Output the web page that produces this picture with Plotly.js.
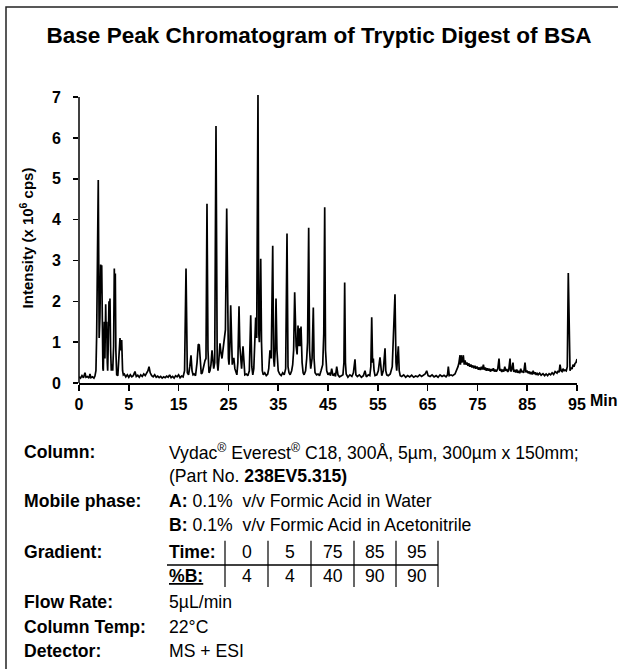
<!DOCTYPE html>
<html>
<head>
<meta charset="utf-8">
<script src="https://cdn.plot.ly/plotly-3.0.1.min.js"></script>
<style>
  html, body { margin: 0; padding: 0; background: #fff; }
  #chart { width: 618px; height: 669px; }
</style>
</head>
<body>
<div id="chart"></div>
<script>
// ---------------- DATA ----------------
const chartTitle = "Base Peak Chromatogram of Tryptic Digest of BSA";
const yAxisTitle = "Intensity (x 10<sup>6</sup> cps)";
const xTickPositions = [-5, 5, 15, 25, 35, 45, 55, 65, 75, 85, 95];
const xTickLabels = ["0", "5", "15", "25", "35", "45", "55", "65", "75", "85", "95"];
const xUnitLabel = "Min";
const yTickValues = [0, 1, 2, 3, 4, 5, 6, 7];

// [time (min), intensity (x10^6 cps)]
const segmentEarly = [
  [-5.0,0.15],[-4.7,0.12],[-4.4,0.18],[-4.1,0.13],[-3.8,0.25],[-3.6,0.14],[-3.3,0.16],[-3.0,0.12],
  [-2.8,0.22],[-2.6,0.13],[-2.3,0.15],[-2.0,0.12],[-1.8,0.17],[-1.6,0.3],[-1.45,1.2],[-1.13,4.97],
  [-0.95,1.1],[-0.8,1.6],[-0.64,2.9],[-0.52,2.2],[-0.44,2.88],[-0.38,1.3],[-0.32,1.5],[-0.2,0.35],
  [-0.12,0.3],[0.0,1.2],[0.08,1.5],[0.2,0.6],[0.36,1.93],[0.45,1.2],[0.56,1.5],[0.68,0.5],
  [0.76,0.3],[0.9,1.1],[1.02,2.0],[1.1,1.4],[1.22,2.07],[1.35,0.8],[1.49,0.3],[1.65,0.45],
  [1.77,0.3],[1.95,0.9],[2.09,2.8],[2.2,1.8],[2.29,2.68],[2.4,0.8],[2.57,0.2],[2.8,0.18],
  [3.0,0.5],[3.23,1.1],[3.4,0.8],[3.57,1.05],[3.75,0.3],[3.9,0.2],[4.1,0.22],[4.4,0.15],[4.7,0.2]
];
const segmentFirstHalf = [
  [5.0,0.14],[5.3,0.2],[5.6,0.15],[5.9,0.18],[6.24,0.28],[6.5,0.16],[6.8,0.19],[7.1,0.14],
  [7.4,0.2],[7.7,0.16],[8.0,0.22],[8.3,0.18],[8.6,0.25],[8.85,0.3],[9.06,0.4],[9.3,0.25],
  [9.6,0.18],[9.9,0.15],[10.2,0.2],[10.5,0.14],[10.8,0.17],[11.1,0.13],[11.4,0.16],[11.7,0.12],
  [12.0,0.15],[12.3,0.13],[12.6,0.17],[12.9,0.14],[13.2,0.2],[13.5,0.13],[13.8,0.16],[14.1,0.12],
  [14.4,0.18],[14.7,0.15],[15.0,0.2],[15.3,0.13],[15.6,0.17],[15.9,0.15],[16.2,0.3],[16.49,2.8],
  [16.75,0.25],[17.0,0.2],[17.25,0.4],[17.49,0.68],[17.7,0.3],[17.9,0.2],[18.1,0.22],[18.4,0.18],
  [18.7,0.5],[18.95,0.95],[19.15,0.93],[19.35,0.4],[19.55,0.22],[19.75,0.25],[20.0,0.4],[20.3,0.55],
  [20.5,0.6],[20.7,4.39],[20.9,0.8],[21.1,0.25],[21.3,0.3],[21.5,0.45],[21.71,0.8],[21.9,0.4],
  [22.05,0.35],[22.25,0.5],[22.51,6.29],[22.75,0.5],[22.91,0.3],[23.1,0.6],[23.31,0.97],[23.5,0.75],
  [23.71,0.6],[23.9,0.8],[24.18,1.05],[24.4,1.3],[24.66,4.27],[24.85,1.1],[25.0,0.6],[25.12,0.45],
  [25.3,0.9],[25.46,1.9],[25.62,0.9],[25.78,0.45],[25.95,0.6],[26.1,0.6],[26.3,0.35],[26.5,0.25],
  [26.7,0.2],[26.9,0.5],[27.13,1.88],[27.3,0.9],[27.47,0.55],[27.65,0.35],[27.93,0.9],[28.1,0.4],
  [28.3,0.2],[28.6,0.22],[28.9,0.18],[29.2,0.3],[29.48,1.66],[29.7,0.4],[29.9,0.2]
];
const segmentMiddle = [
  [30.1,0.35],[30.3,1.0],[30.48,1.6],[30.68,1.1],[30.94,7.05],[31.1,1.2],[31.22,1.0],[31.35,1.6],
  [31.49,3.04],[31.65,1.0],[31.81,0.3],[32.0,0.2],[32.3,0.25],[32.6,0.18],[32.9,0.22],[33.1,0.35],
  [33.35,0.8],[33.6,0.6],[33.9,3.36],[34.08,0.6],[34.22,0.4],[34.4,0.8],[34.56,2.07],[34.75,0.8],
  [35.0,0.3],[35.3,0.22],[35.6,0.18],[35.9,0.25],[36.2,0.2],[36.5,0.35],[36.77,3.66],[36.97,0.4],
  [37.17,0.25],[37.4,0.2],[37.7,0.3],[37.91,0.45],[38.1,0.8],[38.31,2.22],[38.45,1.2],[38.6,0.9],
  [38.8,0.7],[38.98,1.41],[39.15,0.9],[39.32,1.34],[39.45,0.9],[39.58,1.38],[39.8,0.5],[40.0,0.25],
  [40.2,0.2],[40.5,0.3],[40.72,0.6],[40.9,1.0],[41.12,3.8],[41.3,0.8],[41.53,0.35],[41.8,0.6],
  [42.05,1.85],[42.2,0.6],[42.4,0.25],[42.7,0.2],[43.0,0.22],[43.3,0.18],[43.6,0.3],[43.94,0.45],
  [44.15,1.2],[44.34,4.3],[44.5,0.8],[44.74,0.3],[45.0,0.2],[45.3,0.25],[45.5,0.18],[45.74,0.35],
  [46.0,0.18],[46.3,0.22],[46.5,0.16],[46.75,0.4],[47.0,0.2],[47.3,0.15],[47.7,0.18],[48.0,0.2],
  [48.2,0.5],[48.35,2.46],[48.5,0.5],[48.65,0.22],[49.0,0.14],[49.4,0.2],[49.8,0.16],[50.1,0.25],
  [50.42,0.58],[50.6,0.2],[50.9,0.16],[51.3,0.2],[51.7,0.14],[52.1,0.18],[52.43,0.3],[52.7,0.15],
  [53.1,0.2],[53.4,0.18],[53.6,0.4],[53.78,1.61],[53.95,0.5],[54.1,0.6],[54.25,0.3],[54.44,0.18],
  [54.8,0.2],[55.1,0.3],[55.44,0.63],[55.6,0.3],[55.8,0.18],[56.1,0.3],[56.45,0.85],[56.6,0.3],
  [56.8,0.2],[57.1,0.18],[57.5,0.22],[57.9,0.4],[58.11,0.97],[58.45,2.17],[58.65,0.5],[58.8,0.3],
  [58.95,0.6],[59.12,0.9],[59.3,0.3],[59.5,0.18],[59.8,0.16]
];
const segmentLate = [
  [60.2,0.2],[60.6,0.14],[61.0,0.18],[61.4,0.15],[61.8,0.19],[62.2,0.14],[62.6,0.17],[63.0,0.15],
  [63.4,0.2],[63.8,0.16],[64.2,0.2],[64.5,0.22],[64.82,0.3],[65.1,0.18],[65.5,0.16],[65.9,0.2],
  [66.3,0.15],[66.7,0.18],[67.1,0.14],[67.5,0.2],[67.9,0.16],[68.3,0.19],[68.7,0.15],[69.0,0.2],
  [69.16,0.4],[69.35,0.18],[69.7,0.2],[70.0,0.18],[70.5,0.22],[70.84,0.3],[71.1,0.4],[71.3,0.5],
  [71.51,0.68],[71.6,0.45],[71.71,0.68],[71.9,0.5],[72.0,0.6],[72.17,0.68],[72.35,0.45],[72.52,0.55],
  [72.7,0.45],[72.9,0.5],[73.1,0.42],[73.3,0.48],[73.5,0.4],[73.7,0.45],[73.9,0.38],[74.1,0.43],
  [74.3,0.36],[74.5,0.42],[74.7,0.35],[74.93,0.4],[75.2,0.33],[75.4,0.38],[75.6,0.32],[75.8,0.4],
  [76.0,0.33],[76.2,0.45],[76.4,0.32],[76.6,0.38],[76.8,0.3],[77.0,0.36],[77.2,0.3],[77.4,0.35],
  [77.6,0.28],[77.8,0.34],[78.0,0.3],[78.2,0.36],[78.4,0.28],[78.6,0.33],[78.8,0.28],[79.1,0.35],
  [79.34,0.6],[79.5,0.3],[79.7,0.34],[79.9,0.27],[80.1,0.33],[80.3,0.28],[80.5,0.4],[80.7,0.3],
  [80.9,0.34],[81.1,0.27],[81.3,0.32],[81.55,0.6],[81.7,0.28],[81.9,0.33],[82.15,0.5],[82.3,0.27],
  [82.5,0.32],[82.7,0.26],[82.9,0.33],[83.1,0.25],[83.3,0.3],[83.5,0.24],[83.7,0.35],[83.9,0.26],
  [84.1,0.3],[84.3,0.25],[84.56,0.5],[84.75,0.26],[84.95,0.3],[85.2,0.24],[85.4,0.28],[85.6,0.22],
  [85.8,0.27],[86.0,0.21],[86.2,0.3],[86.4,0.22],[86.6,0.26],[86.8,0.2],[87.0,0.25],[87.2,0.2],
  [87.5,0.24],[87.8,0.19],[88.17,0.23],[88.5,0.18],[88.8,0.22],[89.1,0.18],[89.4,0.23],[89.7,0.2],
  [90.0,0.25],[90.3,0.21],[90.6,0.28],[90.99,0.24],[91.2,0.3],[91.4,0.26],[91.59,0.45],[91.8,0.3],
  [92.0,0.28],[92.19,0.35],[92.4,0.3],[92.6,0.32],[92.85,0.3],[93.05,0.4],[93.25,2.69],[93.45,0.4],
  [93.6,0.3],[93.8,0.38],[94.0,0.34],[94.2,0.45],[94.4,0.4],[94.6,0.48],[94.8,0.5],[95.0,0.59]
];

// Method text
const infoLabels = ["Column:", "Mobile phase:", "Gradient:", "Flow Rate:", "Column Temp:", "Detector:"];
const columnLines = ["Vydac<sup>®</sup> Everest<sup>®</sup> C18, 300Å, 5µm, 300µm x 150mm;", "(Part No. <b>238EV5.315)</b>"];
const mobilePhaseLines = ["<b>A:</b> 0.1%  v/v Formic Acid in Water", "<b>B:</b> 0.1%  v/v Formic Acid in Acetonitrile"];
const gradientTimes = ["0", "5", "75", "85", "95"];
const gradientPercentB = ["4", "4", "40", "90", "90"];
const flowRate = "5µL/min";
const columnTemp = "22°C";
const detector = "MS + ESI";

// ---------------- BUILD ----------------
const allPoints = segmentEarly.concat(segmentFirstHalf, segmentMiddle, segmentLate);
const times = allPoints.map(p => p[0]);
const intensities = allPoints.map(p => p[1]);

// detect a narrow face
function hasFont(name) {
  const c = document.createElement("canvas").getContext("2d");
  const s = "Column Temp: Vydac Everest 300mm";
  c.font = "40px monospace"; const w0 = c.measureText(s).width;
  c.font = "40px '" + name + "', monospace"; const w1 = c.measureText(s).width;
  return Math.abs(w0 - w1) > 0.5;
}
const narrow = hasFont("Liberation Sans Narrow");
const FONT = narrow ? "Liberation Sans Narrow, Arial Narrow, sans-serif" : "Liberation Sans, Arial, sans-serif";
const k = narrow ? 1 : 0.82;
const TICKFONT = "Liberation Sans, Arial, sans-serif";

const L = 79, R = 577, T = 96, B = 383;
const W = 618, H = 669;
const px = x => (x - L) / (R - L);
const pyp = y => (B - y) / (B - T);

function ann(text, x, y, size, extra) {
  return Object.assign({
    text: text, xref: "paper", yref: "paper", x: px(x), y: pyp(y),
    xanchor: "left", yanchor: "middle", showarrow: false,
    font: { family: FONT, size: size, color: "#000" }
  }, extra || {});
}

const infoSize = 21.5 * k;
const labelX = 22, valueX = 167;
const rowY = { column: 451, part: 475, mobile: 500, mobileB: 524, time: 550, pb: 574, flow: 600, temp: 624, det: 648 };

const annotations = [];
annotations.push(ann("<b>" + xUnitLabel + "</b>", 588, 400, 16, { font: { family: TICKFONT, size: 16, color: "#000" } }));
annotations.push(ann("<b>" + infoLabels[0] + "</b>", labelX, rowY.column, infoSize));
annotations.push(ann(columnLines[0], valueX, rowY.column, infoSize));
annotations.push(ann(columnLines[1], valueX, rowY.part, infoSize));
annotations.push(ann("<b>" + infoLabels[1] + "</b>", labelX, rowY.mobile, infoSize));
annotations.push(ann(mobilePhaseLines[0], valueX, rowY.mobile, infoSize));
annotations.push(ann(mobilePhaseLines[1], valueX, rowY.mobileB, infoSize));
annotations.push(ann("<b>" + infoLabels[2] + "</b>", labelX, rowY.time, infoSize));
annotations.push(ann("<b>Time:</b>", valueX, rowY.time, infoSize));
annotations.push(ann("<b><u>%B:</u></b>", valueX, rowY.pb, infoSize));
const barX = [225, 268, 311, 354, 396, 438];
for (let i = 0; i < gradientTimes.length; i++) {
  const cx = (barX[i] + barX[i + 1]) / 2;
  annotations.push(ann(gradientTimes[i], cx, rowY.time, infoSize, { xanchor: "center" }));
  annotations.push(ann(gradientPercentB[i], cx, rowY.pb, infoSize, { xanchor: "center" }));
}
annotations.push(ann("<b>" + infoLabels[3] + "</b>", labelX, rowY.flow, infoSize));
annotations.push(ann(flowRate, valueX, rowY.flow, infoSize));
annotations.push(ann("<b>" + infoLabels[4] + "</b>", labelX, rowY.temp, infoSize));
annotations.push(ann(columnTemp, valueX, rowY.temp, infoSize));
annotations.push(ann("<b>" + infoLabels[5] + "</b>", labelX, rowY.det, infoSize));
annotations.push(ann(detector, valueX, rowY.det, infoSize));

const shapes = [];
shapes.push({ type: "rect", xref: "paper", yref: "paper", x0: px(6), x1: px(760), y0: pyp(760), y1: pyp(11),
  line: { color: "#222", width: 1.5 }, fillcolor: "rgba(0,0,0,0)", layer: "below" });
shapes.push({ type: "line", xref: "paper", yref: "y", x0: 0, x1: 0, y0: 0, y1: 7, line: { color: "#000", width: 1.5 } });
const lineTop = rowY.time - 11, lineMid = (rowY.time + rowY.pb) / 2 + 1, lineBot = rowY.pb + 11;
shapes.push({ type: "line", xref: "paper", yref: "paper", x0: px(valueX), x1: px(barX[barX.length - 1]),
  y0: pyp(lineMid), y1: pyp(lineMid), line: { color: "#000", width: 1.5 } });
barX.forEach(bx => {
  shapes.push({ type: "line", xref: "paper", yref: "paper", x0: px(bx), x1: px(bx),
    y0: pyp(lineTop), y1: pyp(lineBot), line: { color: "#000", width: 1.2 } });
});

const trace = {
  x: times, y: intensities, type: "scatter", mode: "lines",
  line: { color: "#000", width: 1.7 }, hoverinfo: "skip", showlegend: false
};

const layout = {
  width: W, height: H,
  margin: { l: L, r: W - R, t: T - 3, b: H - B, pad: 0 },
  paper_bgcolor: "#fff", plot_bgcolor: "#fff",
  font: { family: FONT, color: "#000" },
  title: {
    text: "<b>" + chartTitle + "</b>",
    x: 319 / W, xanchor: "center", xref: "container",
    y: 1 - 35 / H, yanchor: "middle", yref: "container",
    font: { family: FONT, size: 27.5 * k, color: "#000" }
  },
  xaxis: {
    range: [-5, 95], tickmode: "array", tickvals: xTickPositions, ticktext: xTickLabels,
    showline: true, linecolor: "#000", linewidth: 1.5, mirror: false,
    ticks: "outside", ticklen: 6, tickwidth: 1.5, tickcolor: "#000",
    showgrid: false, zeroline: false,
    tickfont: { family: TICKFONT, size: 16, color: "#000", weight: "bold" }
  },
  yaxis: {
    range: [0, 7.1], tickmode: "array", tickvals: yTickValues,
    showline: false, ticks: "outside", ticklen: 5, tickwidth: 1.5, tickcolor: "#000",
    showgrid: false, zeroline: false, ticklabelstandoff: 9,
    tickfont: { family: TICKFONT, size: 16, color: "#000", weight: "bold" },
    title: { text: "<b>" + yAxisTitle + "</b>", font: { family: TICKFONT, size: 15, color: "#000" }, standoff: 14 }
  },
  annotations: annotations,
  shapes: shapes
};

Plotly.newPlot("chart", [trace], layout, { staticPlot: true, displayModeBar: false });
</script>
</body>
</html>
